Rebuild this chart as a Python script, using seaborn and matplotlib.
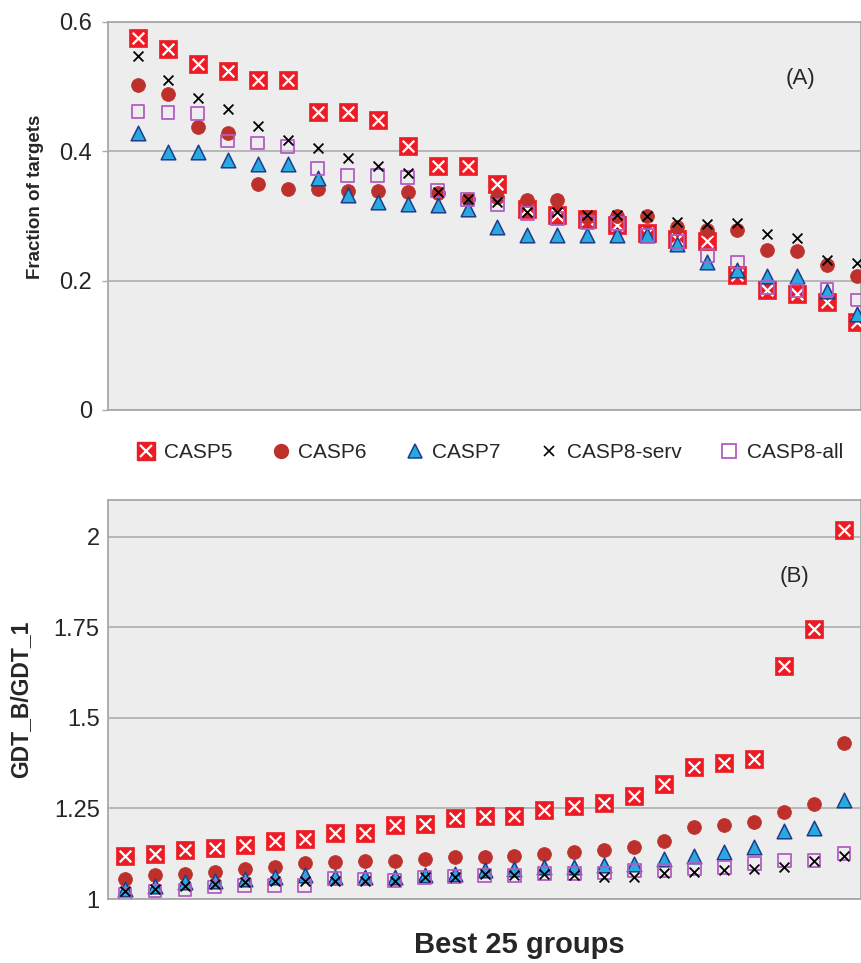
import numpy as np
import pandas as pd
import matplotlib
matplotlib.use("Agg")
import matplotlib.pyplot as plt
from matplotlib.lines import Line2D
import seaborn as sns

# ------------------------------------------------------------------ #
#  Data
# ------------------------------------------------------------------ #
groups = list(range(1, 26))

# (A) Fraction of targets
casp5_a = [0.575, 0.558, 0.535, 0.524, 0.511, 0.511, 0.461, 0.461, 0.449, 0.409,
           0.378, 0.377, 0.350, 0.311, 0.301, 0.296, 0.286, 0.273, 0.265, 0.261,
           0.208, 0.186, 0.180, 0.167, 0.136]
casp6_a = [0.502, 0.488, 0.437, 0.428, 0.349, 0.342, 0.341, 0.339, 0.339, 0.337,
           0.336, 0.327, 0.329, 0.324, 0.324, 0.298, 0.300, 0.300, 0.283, 0.278,
           0.279, 0.248, 0.246, 0.224, 0.207]
casp7_a = [0.428, 0.399, 0.399, 0.386, 0.381, 0.380, 0.358, 0.332, 0.322, 0.318,
           0.317, 0.311, 0.283, 0.270, 0.270, 0.270, 0.270, 0.270, 0.257, 0.229,
           0.217, 0.207, 0.207, 0.184, 0.149]
serv_a = [0.547, 0.511, 0.482, 0.465, 0.439, 0.417, 0.405, 0.390, 0.378, 0.366,
          0.337, 0.327, 0.322, 0.306, 0.306, 0.301, 0.301, 0.300, 0.291, 0.287,
          0.289, 0.272, 0.266, 0.232, 0.227]
all_a = [0.462, 0.460, 0.458, 0.416, 0.413, 0.407, 0.373, 0.363, 0.363, 0.359,
         0.340, 0.325, 0.317, 0.304, 0.296, 0.290, 0.289, 0.270, 0.260, 0.239,
         0.229, 0.190, 0.185, 0.186, 0.170]

# (B) GDT_B/GDT_1
casp5_b = [1.120, 1.125, 1.136, 1.140, 1.150, 1.159, 1.166, 1.183, 1.183, 1.203,
           1.208, 1.224, 1.228, 1.228, 1.245, 1.258, 1.265, 1.283, 1.316, 1.364,
           1.375, 1.387, 1.642, 1.744, 2.018]
casp6_b = [1.056, 1.065, 1.070, 1.074, 1.083, 1.088, 1.099, 1.102, 1.106, 1.106,
           1.109, 1.116, 1.116, 1.118, 1.125, 1.129, 1.134, 1.143, 1.160, 1.198,
           1.203, 1.212, 1.240, 1.263, 1.430]
casp7_b = [1.028, 1.037, 1.046, 1.051, 1.056, 1.060, 1.065, 1.060, 1.060, 1.060,
           1.065, 1.070, 1.079, 1.083, 1.088, 1.088, 1.093, 1.097, 1.111, 1.120,
           1.129, 1.143, 1.189, 1.197, 1.272]
serv_b = [1.023, 1.028, 1.037, 1.042, 1.046, 1.051, 1.051, 1.051, 1.051, 1.050,
          1.060, 1.060, 1.070, 1.065, 1.070, 1.065, 1.062, 1.060, 1.071, 1.074,
          1.079, 1.083, 1.088, 1.106, 1.120]
all_b = [1.014, 1.022, 1.025, 1.033, 1.037, 1.037, 1.037, 1.056, 1.055, 1.050,
         1.060, 1.062, 1.065, 1.065, 1.070, 1.070, 1.072, 1.079, 1.079, 1.083,
         1.088, 1.097, 1.106, 1.106, 1.125]

series_names = ["CASP5", "CASP6", "CASP7", "CASP8-serv", "CASP8-all"]

RED = "#ED1C24"
DARKRED = "#BE302C"
CYAN = "#2AA9E0"
NAVY = "#1F3C8C"
PURPLE = "#B25CC4"
GRID = "#A8A8A8"

sns.set_theme(style="white", rc={"axes.facecolor": "#EDEDED"})
plt.rcParams["font.family"] = ["Liberation Sans", "DejaVu Sans"]

W, H = 861, 963
fig = plt.figure(figsize=(W / 100, H / 100), dpi=100)

ax_a = fig.add_axes([108 / W, 1 - 410 / H, (W - 108) / W, 388 / H])
ax_b = fig.add_axes([108 / W, 1 - 899 / H, (W - 108) / W, 399 / H])


def draw_series(ax, s5, s6, s7, s8s, s8a):
    df = pd.DataFrame({"group": groups, "CASP5": s5, "CASP6": s6, "CASP7": s7,
                       "CASP8-serv": s8s, "CASP8-all": s8a})
    sns.scatterplot(data=df, x="group", y="CASP5", ax=ax, marker="s", s=175,
                    color=RED, edgecolor=RED, linewidth=0.5, zorder=3)
    sns.scatterplot(data=df, x="group", y="CASP5", ax=ax, marker="x", s=70,
                    color="white", linewidth=1.6, zorder=3.1)
    sns.scatterplot(data=df, x="group", y="CASP6", ax=ax, marker="o", s=100,
                    color=DARKRED, edgecolor=DARKRED, linewidth=0.5, zorder=4)
    sns.scatterplot(data=df, x="group", y="CASP7", ax=ax, marker="^", s=110,
                    color=CYAN, edgecolor=NAVY, linewidth=1.1, zorder=5)
    sns.scatterplot(data=df, x="group", y="CASP8-all", ax=ax, marker="s", s=85,
                    facecolor="none", edgecolor=PURPLE, linewidth=1.3, zorder=6)
    sns.scatterplot(data=df, x="group", y="CASP8-serv", ax=ax, marker="x", s=50,
                    color="black", linewidth=1.3, zorder=7)


draw_series(ax_a, casp5_a, casp6_a, casp7_a, serv_a, all_a)
draw_series(ax_b, casp5_b, casp6_b, casp7_b, serv_b, all_b)

# ---- panel A axes ----
ax_a.set_xlim(0, (W - 108) / 29.96)
ax_a.set_ylim(0, 0.6)
ax_a.set_yticks([0, 0.2, 0.4, 0.6])
ax_a.set_yticklabels(["0", "0.2", "0.4", "0.6"])
ax_a.set_xticks([])
ax_a.tick_params(axis="y", which="major", left=True, length=4.5, width=1,
                 color=GRID, pad=7, labelsize=17)
ax_a.grid(axis="y", color=GRID, linewidth=1.1)
ax_a.set_axisbelow(True)
ax_a.set_xlabel("")
ax_a.set_ylabel("Fraction of targets", fontsize=13.5, fontweight="bold")
ax_a.yaxis.set_label_coords(-0.085, 0.55)
ax_a.text(23.1, 0.513, "(A)", fontsize=16, ha="center", va="center")

# ---- panel B axes ----
xb0 = 1 - 17 / 29.96
ax_b.set_xlim(xb0, xb0 + (W - 108) / 29.96)
ax_b.set_ylim(1, 2.101)
ax_b.set_yticks([1, 1.25, 1.5, 1.75, 2])
ax_b.set_yticklabels(["1", "1.25", "1.5", "1.75", "2"])
ax_b.set_xticks([])
ax_b.tick_params(axis="y", left=False, length=0, pad=6, labelsize=17)
ax_b.grid(axis="y", color=GRID, linewidth=1.1)
ax_b.set_axisbelow(True)
ax_b.set_xlabel("")
ax_b.set_ylabel("GDT_B/GDT_1", fontsize=16.5, fontweight="bold")
ax_b.yaxis.set_label_coords(-0.101, 0.50)
ax_b.text(23.36, 1.891, "(B)", fontsize=16, ha="center", va="center")

for ax in (ax_a, ax_b):
    for side in ("left", "bottom", "top", "right"):
        ax.spines[side].set_color(GRID)
        ax.spines[side].set_linewidth(1.3)
        ax.spines[side].set_visible(True)

# ---- shared legend between the panels ----
h5 = (Line2D([], [], ls="", marker="s", ms=13, color=RED),
      Line2D([], [], ls="", marker="x", ms=8, mew=1.6, color="white"))
h6 = Line2D([], [], ls="", marker="o", ms=10, color=DARKRED)
h7 = Line2D([], [], ls="", marker="^", ms=10, mfc=CYAN, mec=NAVY, mew=1.1)
h8s = Line2D([], [], ls="", marker="x", ms=7, mew=1.2, color="black")
h8a = Line2D([], [], ls="", marker="s", ms=10, mfc="none", mec=PURPLE, mew=1.3)
fig.legend([h5, h6, h7, h8s, h8a], series_names, loc="center left",
           bbox_to_anchor=(136 / W, 1 - 453 / H), ncol=5, frameon=False,
           fontsize=15, handlelength=1.0, handletextpad=0.35,
           columnspacing=1.8, borderpad=0, borderaxespad=0)

fig.text(519 / W, 1 - 945 / H, "Best 25 groups", fontsize=21,
         fontweight="bold", ha="center", va="center")

fig.savefig("out.png", dpi=100)
